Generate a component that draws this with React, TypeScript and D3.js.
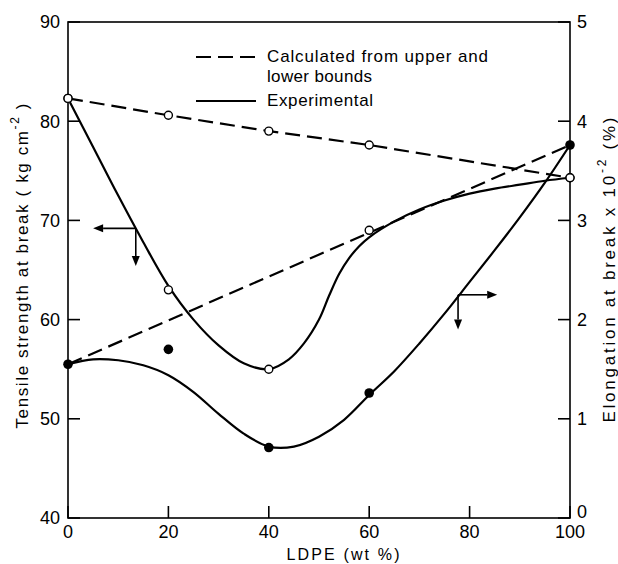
import React from 'react';
import * as d3 from 'd3';

// LDPE content (wt %) of the blends
const ldpe = [0, 20, 40, 60, 100];
// Tensile strength at break (kg cm^-2), measured and calculated
const tensileExp = [82.3, 63.0, 55.0, 69.0, 74.3];
const tensileCalc = [82.3, 80.6, 79.0, 77.6, 74.3];
// Elongation at break (x 10^2 %), measured
const elongExp = [1.55, 1.70, 0.71, 1.26, 3.76];
// Elongation calculated from the bounds (straight line between the pure components)
const elongCalcLdpe = [0, 100];
const elongCalc = [1.55, 3.76];

// Smooth experimental trend curves
const tensileFitLdpe = [0, 5, 10, 15, 20, 25, 30, 35, 40, 44, 47, 50, 52, 54, 56, 58, 60, 65, 70, 75, 80, 85, 90, 95, 100];
const tensileFit = [82.3, 77.4, 72.5, 67.8, 63.4, 60.0, 57.4, 55.6, 55.0, 56.0, 57.6, 60.0, 62.4, 64.6, 66.2, 67.4, 68.3, 69.9, 71.1, 72.0, 72.7, 73.2, 73.6, 74.0, 74.3];
const elongFitLdpe = [0, 5, 10, 15, 20, 25, 30, 35, 40, 45, 50, 55, 60, 65, 70, 75, 80, 85, 90, 95, 100];
const elongFit = [1.55, 1.60, 1.59, 1.54, 1.44, 1.27, 1.05, 0.85, 0.72, 0.72, 0.82, 0.99, 1.24, 1.48, 1.76, 2.06, 2.38, 2.70, 3.03, 3.38, 3.76];

// Axis arrows: [corner x, corner y, tip x, tip y]
const tensileArrow = [13.5, 69.2, 5.0, 65.4];
const elongArrow = [77.7, 2.25, 85.5, 1.9];

const xTicks = [0, 20, 40, 60, 80, 100];
const leftTicks = [40, 50, 60, 70, 80, 90];
const rightTicks = [0, 1, 2, 3, 4, 5];

const W = 618;
const H = 564;
const FONT = '"Liberation Sans", Arial, sans-serif';

export default function App() {
  const x = d3.scaleLinear().domain([0, 100]).range([68, 570]);
  const yL = d3.scaleLinear().domain([40, 90]).range([518, 22]);
  const yR = d3.scaleLinear().domain([0, 5]).range([518, 22]);

  const smooth = d3.curveCatmullRom.alpha(0.5);

  const tensileFitPath = d3
    .line<number>()
    .x((_, i) => x(tensileFitLdpe[i]))
    .y((d) => yL(d))
    .curve(smooth)(tensileFit) as string;
  const elongFitPath = d3
    .line<number>()
    .x((_, i) => x(elongFitLdpe[i]))
    .y((d) => yR(d))
    .curve(smooth)(elongFit) as string;
  const tensileCalcPath = d3
    .line<number>()
    .x((_, i) => x(ldpe[i]))
    .y((d) => yL(d))(tensileCalc) as string;
  const elongCalcPath = d3
    .line<number>()
    .x((_, i) => x(elongCalcLdpe[i]))
    .y((d) => yR(d))(elongCalc) as string;

  const dash = '15 7';
  const lw = 2.2;

  const arrow = (a: number[], y: d3.ScaleLinear<number, number>, dir: number, key: string) => {
    const cx = x(a[0]);
    const cy = y(a[1]);
    const tx = x(a[2]);
    const ty = y(a[3]);
    const head = 10;
    const hw = 4;
    return (
      <g key={key}>
        <line x1={cx} y1={cy} x2={tx - dir * head} y2={cy} stroke="#000" strokeWidth={1.6} />
        <line x1={cx} y1={cy} x2={cx} y2={ty - head} stroke="#000" strokeWidth={1.6} />
        <path d={`M${tx},${cy} L${tx - dir * head},${cy - hw} L${tx - dir * head},${cy + hw} Z`} fill="#000" />
        <path d={`M${cx},${ty} L${cx - hw},${ty - head} L${cx + hw},${ty - head} Z`} fill="#000" />
      </g>
    );
  };

  return (
    <svg
      width={W}
      height={H}
      viewBox={`0 0 ${W} ${H}`}
      style={{ position: 'absolute', left: 0, top: 0, background: '#fff' }}
      fontFamily={FONT}
    >
      <rect x={0} y={0} width={W} height={H} fill="#fff" />

      {/* frame */}
      <rect x={x(0)} y={yL(90)} width={x(100) - x(0)} height={yL(40) - yL(90)} fill="none" stroke="#000" strokeWidth={1.6} />

      {/* bottom axis */}
      {xTicks.map((t) => (
        <g key={`x${t}`}>
          <line x1={x(t)} x2={x(t)} y1={yL(40)} y2={yL(40) - 12} stroke="#000" strokeWidth={1.6} />
          <text x={x(t)} y={538} fontSize={18} textAnchor="middle">
            {t}
          </text>
        </g>
      ))}
      <text x={343} y={560} fontSize={16} textAnchor="middle" textLength={113} lengthAdjust="spacing">
        LDPE  (wt %)
      </text>

      {/* left axis */}
      {leftTicks.map((t) => (
        <g key={`l${t}`}>
          <line x1={x(0)} x2={x(0) + 12} y1={yL(t)} y2={yL(t)} stroke="#000" strokeWidth={1.6} />
          <text x={60} y={yL(t)} dy="0.36em" fontSize={18} textAnchor="end">
            {t}
          </text>
        </g>
      ))}
      <text
        transform={`translate(28,266) rotate(-90)`}
        fontSize={17}
        textAnchor="middle"
        textLength={325}
        lengthAdjust="spacing"
      >
        Tensile strength at break ( kg cm
        <tspan fontSize={12} dy={-9}>-2</tspan>
        <tspan dy={9}> )</tspan>
      </text>

      {/* right axis */}
      {rightTicks.map((t) => (
        <g key={`r${t}`}>
          <line x1={x(100)} x2={x(100) - 12} y1={yR(t)} y2={yR(t)} stroke="#000" strokeWidth={1.6} />
          <text x={577} y={yR(t) - (t === 0 ? 6 : 0)} dy="0.36em" fontSize={18} textAnchor="start">
            {t}
          </text>
        </g>
      ))}
      <text
        transform={`translate(615,270) rotate(-90)`}
        fontSize={17}
        textAnchor="middle"
        textLength={305}
        lengthAdjust="spacing"
      >
        Elongation at break x 10
        <tspan fontSize={12} dy={-9}>-2</tspan>
        <tspan dy={9}> (%)</tspan>
      </text>

      {/* calculated (dashed) */}
      <path d={tensileCalcPath} fill="none" stroke="#000" strokeWidth={lw} strokeDasharray={dash} />
      <path d={elongCalcPath} fill="none" stroke="#000" strokeWidth={lw} strokeDasharray={dash} />

      {/* experimental (solid) */}
      <path d={tensileFitPath} fill="none" stroke="#000" strokeWidth={lw} />
      <path d={elongFitPath} fill="none" stroke="#000" strokeWidth={lw} />

      {/* arrows */}
      {arrow(tensileArrow, yL, -1, 'al')}
      {arrow(elongArrow, yR, 1, 'ar')}

      {/* markers */}
      {ldpe.map((v, i) => (
        <circle key={`tc${i}`} cx={x(v)} cy={yL(tensileCalc[i])} r={4} fill="#fff" stroke="#000" strokeWidth={1.4} />
      ))}
      {ldpe.map((v, i) => (
        <circle key={`te${i}`} cx={x(v)} cy={yL(tensileExp[i])} r={4} fill="#fff" stroke="#000" strokeWidth={1.4} />
      ))}
      {ldpe.map((v, i) => (
        <circle key={`ee${i}`} cx={x(v)} cy={yR(elongExp[i])} r={4.8} fill="#000" />
      ))}

      {/* legend */}
      <line x1={196} x2={257} y1={57} y2={57} stroke="#000" strokeWidth={lw} strokeDasharray={dash} />
      <text x={267} y={62} fontSize={17} textLength={221} lengthAdjust="spacing">
        Calculated from upper and
      </text>
      <text x={267} y={82} fontSize={17} textLength={105} lengthAdjust="spacing">
        lower bounds
      </text>
      <line x1={196} x2={256} y1={101} y2={101} stroke="#000" strokeWidth={lw} />
      <text x={267} y={106} fontSize={17} textLength={106} lengthAdjust="spacing">
        Experimental
      </text>
    </svg>
  );
}
